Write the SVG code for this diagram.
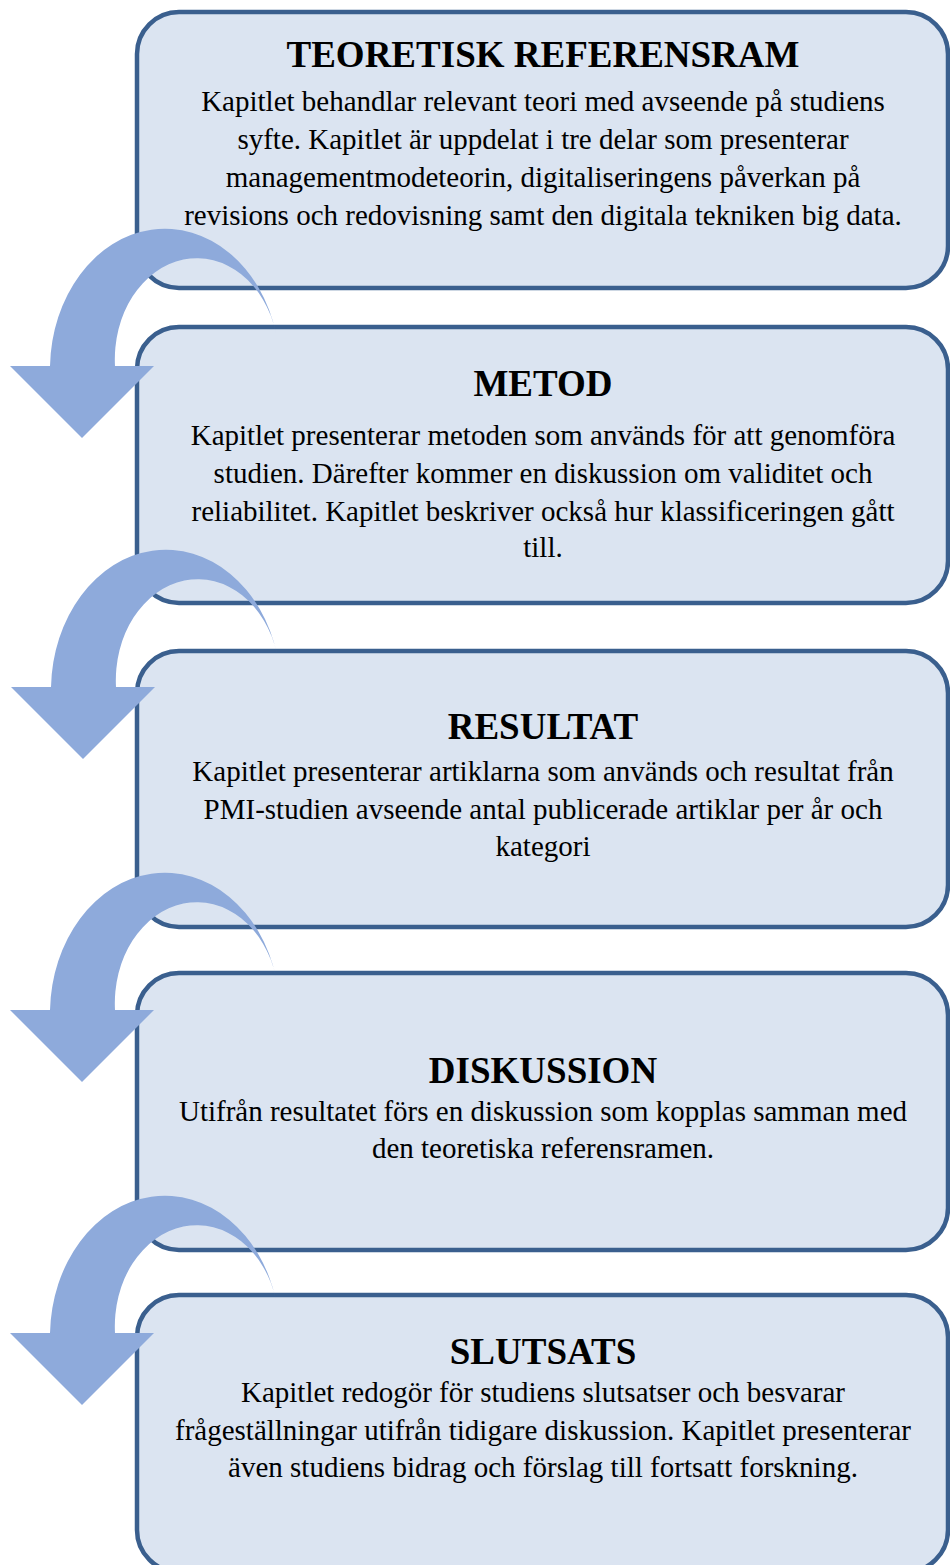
<svg xmlns="http://www.w3.org/2000/svg" width="950" height="1565" viewBox="0 0 950 1565">
<defs>
<style>
.box{fill:#dbe4f1;stroke:#3a5f8e;stroke-width:4.5}
.title{font-family:"Liberation Serif","Times New Roman",serif;font-weight:bold;font-size:37px;fill:#000;text-anchor:middle}
.body{font-family:"Liberation Serif","Times New Roman",serif;font-size:29px;fill:#000;text-anchor:middle}
.arrow{fill:#8eaadb}
</style>
<path id="curvedArrow" class="arrow" d="M50 366 A115 141 0 0 1 276 333 A82 101 0 0 0 115 366 L154 366 L82 438 L10 366 Z"/>
</defs>
<rect width="950" height="1565" fill="#ffffff"/>
<g id="node-teoretisk">
<rect class="box" x="137" y="12" width="811" height="276" rx="42"/>
<text class="title" x="543" y="67">TEORETISK REFERENSRAM</text>
<text class="body" x="543" y="111">Kapitlet behandlar relevant teori med avseende på studiens</text>
<text class="body" x="543" y="149">syfte. Kapitlet är uppdelat i tre delar som presenterar</text>
<text class="body" x="543" y="187">managementmodeteorin, digitaliseringens påverkan på</text>
<text class="body" x="543" y="225">revisions och redovisning samt den digitala tekniken big data.</text>
</g>
<g id="node-metod">
<rect class="box" x="137" y="327" width="811" height="276" rx="42"/>
<text class="title" x="543" y="396">METOD</text>
<text class="body" x="543" y="445">Kapitlet presenterar metoden som används för att genomföra</text>
<text class="body" x="543" y="483">studien. Därefter kommer en diskussion om validitet och</text>
<text class="body" x="543" y="521">reliabilitet. Kapitlet beskriver också hur klassificeringen gått</text>
<text class="body" x="543" y="557">till.</text>
</g>
<g id="node-resultat">
<rect class="box" x="137" y="651" width="811" height="276" rx="42"/>
<text class="title" x="543" y="739">RESULTAT</text>
<text class="body" x="543" y="781">Kapitlet presenterar artiklarna som används och resultat från</text>
<text class="body" x="543" y="819">PMI-studien avseende antal publicerade artiklar per år och</text>
<text class="body" x="543" y="856">kategori</text>
</g>
<g id="node-diskussion">
<rect class="box" x="137" y="973" width="811" height="277" rx="42"/>
<text class="title" x="543" y="1083">DISKUSSION</text>
<text class="body" x="543" y="1121">Utifrån resultatet förs en diskussion som kopplas samman med</text>
<text class="body" x="543" y="1158">den teoretiska referensramen.</text>
</g>
<g id="node-slutsats">
<rect class="box" x="137" y="1295" width="811" height="277" rx="42"/>
<text class="title" x="543" y="1364">SLUTSATS</text>
<text class="body" x="543" y="1402">Kapitlet redogör för studiens slutsatser och besvarar</text>
<text class="body" x="543" y="1440">frågeställningar utifrån tidigare diskussion. Kapitlet presenterar</text>
<text class="body" x="543" y="1477">även studiens bidrag och förslag till fortsatt forskning.</text>
</g>
<g id="connectors">
<use href="#curvedArrow"/>
<use href="#curvedArrow" transform="translate(1,321)"/>
<use href="#curvedArrow" transform="translate(0,644)"/>
<use href="#curvedArrow" transform="translate(0,967)"/>
</g>
</svg>
